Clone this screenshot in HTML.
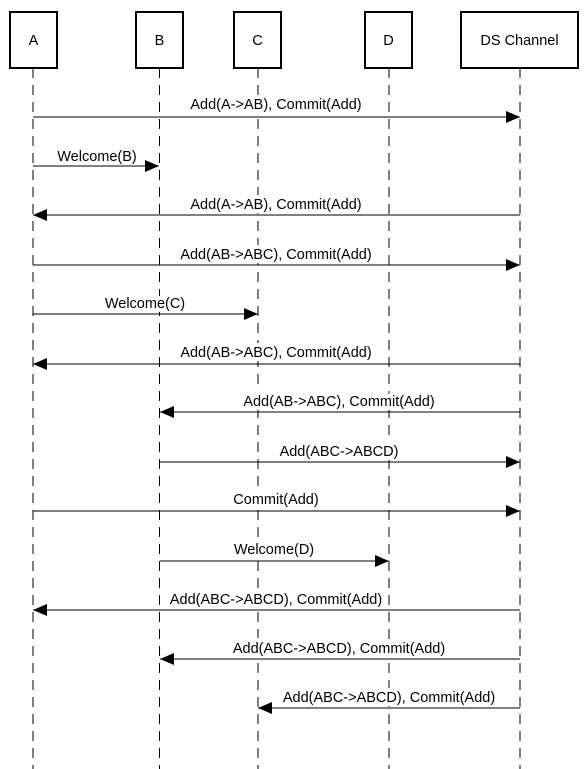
<!DOCTYPE html>
<html><head><meta charset="utf-8"><style>
html,body{margin:0;padding:0;background:#fff;}
svg{display:block;}
text{font-family:"Liberation Sans",Arial,sans-serif;font-size:14.5px;fill:#000;}
.lb{paint-order:stroke;stroke:#fff;stroke-width:8px;stroke-linejoin:round;}
</style></head><body>
<svg width="586" height="769" viewBox="0 0 586 769" xmlns="http://www.w3.org/2000/svg">
<defs>
<marker id="ah" markerWidth="14" markerHeight="12" refX="14" refY="6" orient="auto" markerUnits="userSpaceOnUse">
<path d="M0,0 L14,6 L0,12 Z" fill="#000"/>
</marker>
</defs>
<g stroke="#000" stroke-width="1" stroke-dasharray="10,7">
<line x1="33" y1="68" x2="33" y2="769"/>
<line x1="159.5" y1="68" x2="159.5" y2="769"/>
<line x1="258" y1="68" x2="258" y2="769"/>
<line x1="389" y1="68" x2="389" y2="769"/>
<line x1="520" y1="68" x2="520" y2="769"/>
</g>
<g fill="#fff" stroke="#000" stroke-width="2">
<rect x="10" y="12" width="47" height="56"/>
<rect x="136" y="12" width="47" height="56"/>
<rect x="234" y="12" width="47" height="56"/>
<rect x="365" y="12" width="47" height="56"/>
<rect x="461" y="12" width="117" height="56"/>
</g>
<g text-anchor="middle">
<text x="33.5" y="45">A</text>
<text x="159.5" y="45">B</text>
<text x="257.5" y="45">C</text>
<text x="388.5" y="45">D</text>
<text x="519.5" y="45">DS Channel</text>
</g>
<g text-anchor="middle" class="lb">
<text x="276" y="109">Add(A-&gt;AB), Commit(Add)</text>
<text x="97" y="161">Welcome(B)</text>
<text x="276" y="209">Add(A-&gt;AB), Commit(Add)</text>
<text x="276" y="259">Add(AB-&gt;ABC), Commit(Add)</text>
<text x="145" y="308">Welcome(C)</text>
<text x="276" y="357">Add(AB-&gt;ABC), Commit(Add)</text>
<text x="339" y="406">Add(AB-&gt;ABC), Commit(Add)</text>
<text x="339" y="456">Add(ABC-&gt;ABCD)</text>
<text x="276" y="504">Commit(Add)</text>
<text x="274" y="554">Welcome(D)</text>
<text x="276" y="604">Add(ABC-&gt;ABCD), Commit(Add)</text>
<text x="339" y="653">Add(ABC-&gt;ABCD), Commit(Add)</text>
<text x="389" y="702">Add(ABC-&gt;ABCD), Commit(Add)</text>
</g>
<g stroke="#000" stroke-width="1" marker-end="url(#ah)">
<line x1="33" y1="117" x2="520" y2="117"/>
<line x1="33" y1="166" x2="159" y2="166"/>
<line x1="520" y1="215" x2="33" y2="215"/>
<line x1="33" y1="265" x2="520" y2="265"/>
<line x1="33" y1="314" x2="258" y2="314"/>
<line x1="520" y1="364" x2="33" y2="364"/>
<line x1="520" y1="412" x2="160" y2="412"/>
<line x1="160" y1="462" x2="520" y2="462"/>
<line x1="33" y1="511" x2="520" y2="511"/>
<line x1="160" y1="561" x2="389" y2="561"/>
<line x1="520" y1="610" x2="33" y2="610"/>
<line x1="520" y1="659" x2="160" y2="659"/>
<line x1="520" y1="708" x2="258" y2="708"/>
</g>
</svg>
</body></html>
